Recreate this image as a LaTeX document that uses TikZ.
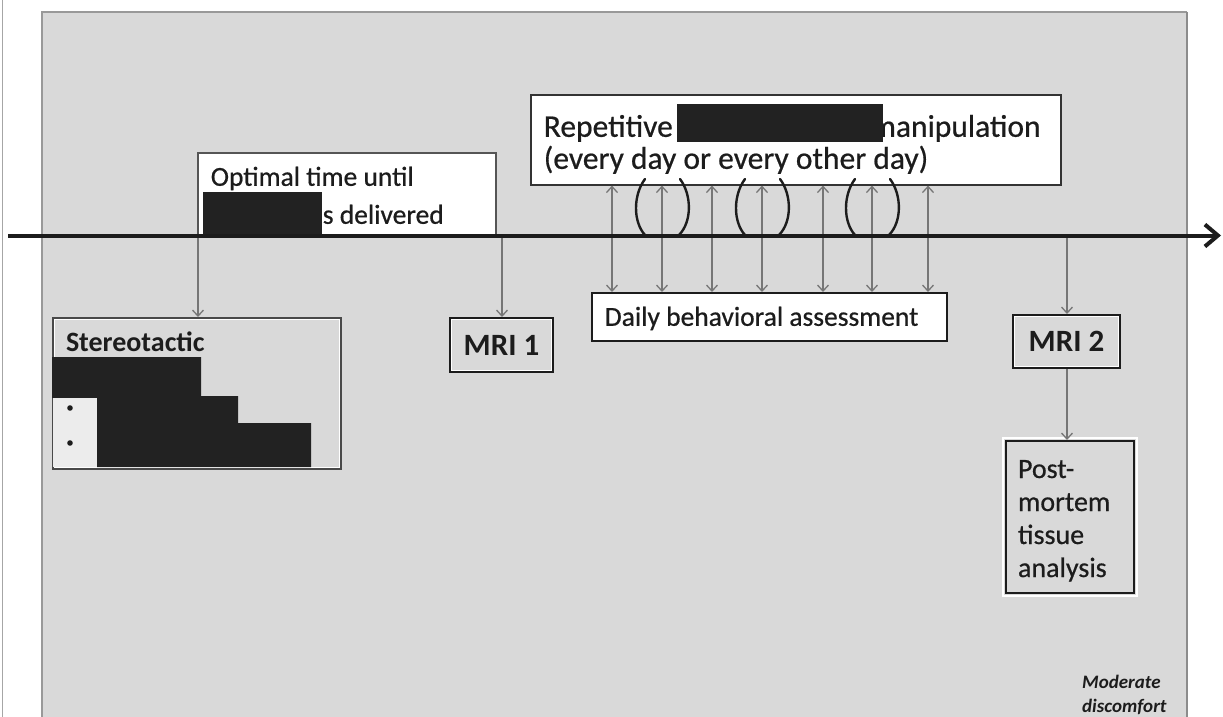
\documentclass[tikz,border=0pt]{standalone}
\usepackage{fontspec}
\setmainfont{Carlito}
\newfontfamily\heavy[FakeBold=0.6]{Carlito}
\usetikzlibrary{arrows.meta}
\definecolor{panel}{HTML}{D9D9D9}
\definecolor{ink}{HTML}{1C1C1C}
\definecolor{arrowgray}{HTML}{767676}
\definecolor{redact}{HTML}{222222}
\newcommand\boxtext[5]{\begin{minipage}[t][#2][t]{#1}\raggedright\leftskip=#4\relax\rule{0pt}{#3}#5\end{minipage}}
\tikzset{
  wbox/.style={draw=#1, line width=1.6pt, fill=white, inner sep=0pt, anchor=north west, text=ink},
  gbox/.style={draw=#1, line width=2pt, fill=panel, inner sep=0pt, text=ink},
  whiteline/.style={draw=white, line width=1.6pt},
  arr/.style={draw=arrowgray, line width=1.3pt, -{Straight Barb[length=6pt,width=11pt]}},
  darr/.style={draw=arrowgray, line width=1.3pt, {Straight Barb[length=6pt,width=11pt]}-{Straight Barb[length=6pt,width=11pt]}},
  paren/.style={draw=ink, line width=2.4pt, line cap=round},
  redaction/.style={fill=redact, draw=none},
  timeline/.style={draw=ink, line width=4pt, -{Straight Barb[length=13pt,width=22pt]}},
}
\begin{document}
\begin{tikzpicture}[x=1pt,y=-1pt]
\useasboundingbox (0,0) rectangle (1223,717);
\fill[white] (0,0) rectangle (1223,717);
\draw[gray!70, line width=1.2pt] (2.5,0) -- (2.5,717);
% panel
\fill[panel] (42,12) rectangle (1187,717);
\draw[gray!80, line width=1.4pt] (42,717) -- (42,12) -- (1187,12);
\draw[gray!90, line width=1.6pt] (1187,12) -- (1187,717);

% boxes above the timeline
\node[wbox=ink!75] (opt) at (197,152)
  {\boxtext{298pt}{84pt}{33pt}{13pt}{\heavy\fontsize{27.5}{38}\selectfont Optimal time until\\ \hspace*{112pt}s delivered}};
\fill[redaction] (203,192) rectangle (322,235.5);

\node[wbox=ink!90] (rep) at (530,94)
  {\boxtext{530pt}{90pt}{42pt}{13pt}{\heavy\fontsize{31.5}{32}\selectfont \makebox[327pt][l]{Repetitive}manipulation\\ (every day or every other day)}};
\fill[redaction] (677,104) rectangle (883,142);

% boxes below the timeline
\node[wbox=ink] (daily) at (591,292)
  {\boxtext{355pt}{48pt}{33pt}{13pt}{\heavy\fontsize{27.5}{32}\selectfont Daily behavioral assessment}};

\node[gbox=ink!80, anchor=north west] (stereo) at (52,317)
  {\boxtext{288pt}{151pt}{33pt}{13pt}{\fontsize{28}{32}\selectfont\bfseries Stereotactic}};
\draw[whiteline] ([shift={(2.5pt,2.5pt)}]stereo.south west) rectangle ([shift={(-2.5pt,-2.5pt)}]stereo.north east);
\fill[redaction] (52,357) -- (201,357) -- (201,396) -- (238,396) -- (238,423) -- (311,423)
  -- (311,467) -- (97,467) -- (97,398) -- (52,398) -- cycle;
\fill[gray!15] (53,398) rectangle (97,467);
\fill[ink] (70,408) circle (2.8pt);
\fill[ink] (70,443) circle (2.8pt);

\node[gbox=ink, minimum width=103pt, minimum height=54pt, font=\fontsize{31}{34}\selectfont\bfseries] (mri1) at (501.5,345) {MRI 1};
\draw[whiteline] ([shift={(2.5pt,2.5pt)}]mri1.south west) rectangle ([shift={(-2.5pt,-2.5pt)}]mri1.north east);

\node[gbox=ink, minimum width=107pt, minimum height=53pt, font=\fontsize{31}{34}\selectfont\bfseries] (mri2) at (1066.5,341.5) {MRI 2};
\draw[whiteline] ([shift={(2.5pt,2.5pt)}]mri2.south west) rectangle ([shift={(-2.5pt,-2.5pt)}]mri2.north east);

\node[gbox=ink, anchor=north west] (post) at (1005,440)
  {\boxtext{128pt}{152pt}{37pt}{12pt}{\heavy\fontsize{28}{33}\selectfont Post-\\ mortem\\ tissue\\ analysis}};
\draw[whiteline] ([shift={(-2pt,-2pt)}]post.south west) rectangle ([shift={(2pt,2pt)}]post.north east);

\node[inner sep=0pt, anchor=north west, text=ink] (mod) at (1082,670)
  {\boxtext{100pt}{46pt}{18pt}{0pt}{\fontsize{19}{24}\selectfont\bfseries\itshape Moderate\\ discomfort}};

% timeline
\coordinate (tstart) at (8,235.5);
\coordinate (tend) at (1221,235.5);
\coordinate (t1) at (198,235.5);
\coordinate (t2) at (502,235.5);
\coordinate (t3) at (1067,235.5);

% arrows from the timeline
\draw[arr] (t1) -- (t1 |- stereo.north);
\draw[arr] (t2) -- (t2 |- mri1.north);
\draw[arr] (t3) -- (t3 |- mri2.north);
\draw[arr] (mri2.south -| t3) -- (post.north -| t3);

% daily assessment arrows
\foreach \xx/\nm in {612/a1,662/a2,712/a3,762/a4,823/a5,872/a6,928/a7}{
  \coordinate (\nm) at (\xx,0);
  \draw[darr] (rep.south -| \nm) -- (daily.north -| \nm);
}

% parentheses around every other manipulation
\foreach \cc in {662,762,872}{
  \draw[paren] (\cc-17,179) .. controls (\cc-29,195) and (\cc-29,222) .. (\cc-17,235);
  \draw[paren] (\cc+18,179) .. controls (\cc+30,195) and (\cc+30,222) .. (\cc+17,235);
}

\draw[timeline] (tstart) -- (tend);
\end{tikzpicture}
\end{document}
